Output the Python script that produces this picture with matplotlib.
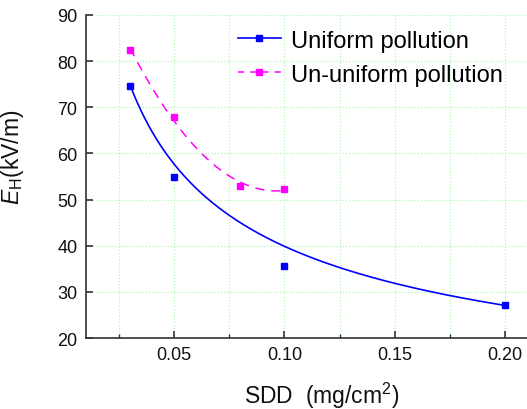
import numpy as np
import matplotlib
matplotlib.use("Agg")
import matplotlib.pyplot as plt
from matplotlib.ticker import MultipleLocator

plt.rcParams['font.family'] = ['Liberation Sans', 'DejaVu Sans']
plt.rcParams['mathtext.fontset'] = 'custom'
plt.rcParams['mathtext.rm'] = 'Liberation Sans'
plt.rcParams['mathtext.it'] = 'Liberation Sans:italic'

# ---- data ----
uniform_x = [0.03, 0.05, 0.10, 0.20]
uniform_y = [74.6, 55.0, 35.7, 27.1]
uniform_trend_y = [74.3, 58.7, 39.3, 27.2]   # trend-curve values at uniform_x
nonuniform_x = [0.03, 0.05, 0.08, 0.10]
nonuniform_y = [82.5, 67.8, 53.0, 52.3]
labels = ["Uniform pollution", "Un-uniform pollution"]
x_ticks = [0.05, 0.10, 0.15, 0.20]
x_ticklabels = ["0.05", "0.10", "0.15", "0.20"]
y_ticks = [20, 30, 40, 50, 60, 70, 80, 90]

# ---- trend curves fitted from the data ----
cu = np.polyfit(np.log(uniform_x), np.log(uniform_trend_y), 2)
xu = np.linspace(min(uniform_x), max(uniform_x), 300)
yu = np.exp(np.polyval(cu, np.log(xu)))

cn = np.polyfit(nonuniform_x, nonuniform_y, 2)
xn = np.linspace(min(nonuniform_x), max(nonuniform_x), 300)
yn = np.polyval(cn, xn)

fig = plt.figure(figsize=(5.27, 4.10), dpi=100)
ax = fig.add_axes([0.163, 0.173, 0.837, 0.788])

blue = '#0000ff'
mag = '#ff00ff'

ax.plot(xu, yu, color=blue, lw=1.2, zorder=3)
ax.plot(uniform_x, uniform_y, ls='none', marker='s', ms=5, color=blue, zorder=4)
ax.plot(xn, yn, color=mag, lw=1.1, dashes=(6, 4.5), zorder=3)
ax.plot(nonuniform_x, nonuniform_y, ls='none', marker='s', ms=5, color=mag, zorder=4)

# legend proxies
h1, = ax.plot([], [], color=blue, lw=1.2, marker='s', ms=5)
h2, = ax.plot([], [], color=mag, lw=1.1, dashes=(4, 4), marker='s', ms=5)
fig.legend([h1, h2], labels, loc='upper left', bbox_to_anchor=(0.452, 0.925),
           frameon=False, fontsize=17, handlelength=1.8, handletextpad=0.45,
           labelspacing=0.5, borderpad=0, borderaxespad=0)

ax.set_xlim(0.01, 0.21)
ax.set_ylim(20, 90)
ax.set_xticks(x_ticks)
ax.set_xticklabels(x_ticklabels)
ax.xaxis.set_minor_locator(MultipleLocator(0.025))
ax.set_yticks(y_ticks)

ax.grid(True, which='both', axis='x', color='#b8f5b8', ls=(0, (1, 1.5)), lw=0.9)
ax.grid(True, which='major', axis='y', color='#b8f5b8', ls=(0, (1, 1.5)), lw=0.9)
ax.set_axisbelow(True)

for s in ['top', 'right']:
    ax.spines[s].set_visible(False)
for s in ['left', 'bottom']:
    ax.spines[s].set_color('#333333')
    ax.spines[s].set_linewidth(1.2)

ax.tick_params(which='major', direction='in', length=5, width=1.2, color='#333333',
               labelsize=13, pad=6, labelcolor='#111111')
ax.tick_params(which='minor', direction='in', length=3, width=1.0, color='#333333')

ax.set_xlabel("SDD  (mg/cm$^{2}$)", fontsize=16.5, color='#111111')
ax.set_ylabel("$E_{\\mathrm{H}}$(kV/m)", fontsize=16.5, color='#111111')
ax.xaxis.set_label_coords(0.535, -0.13)
ax.yaxis.set_label_coords(-0.135, 0.563)

fig.savefig("out.png", dpi=100)
